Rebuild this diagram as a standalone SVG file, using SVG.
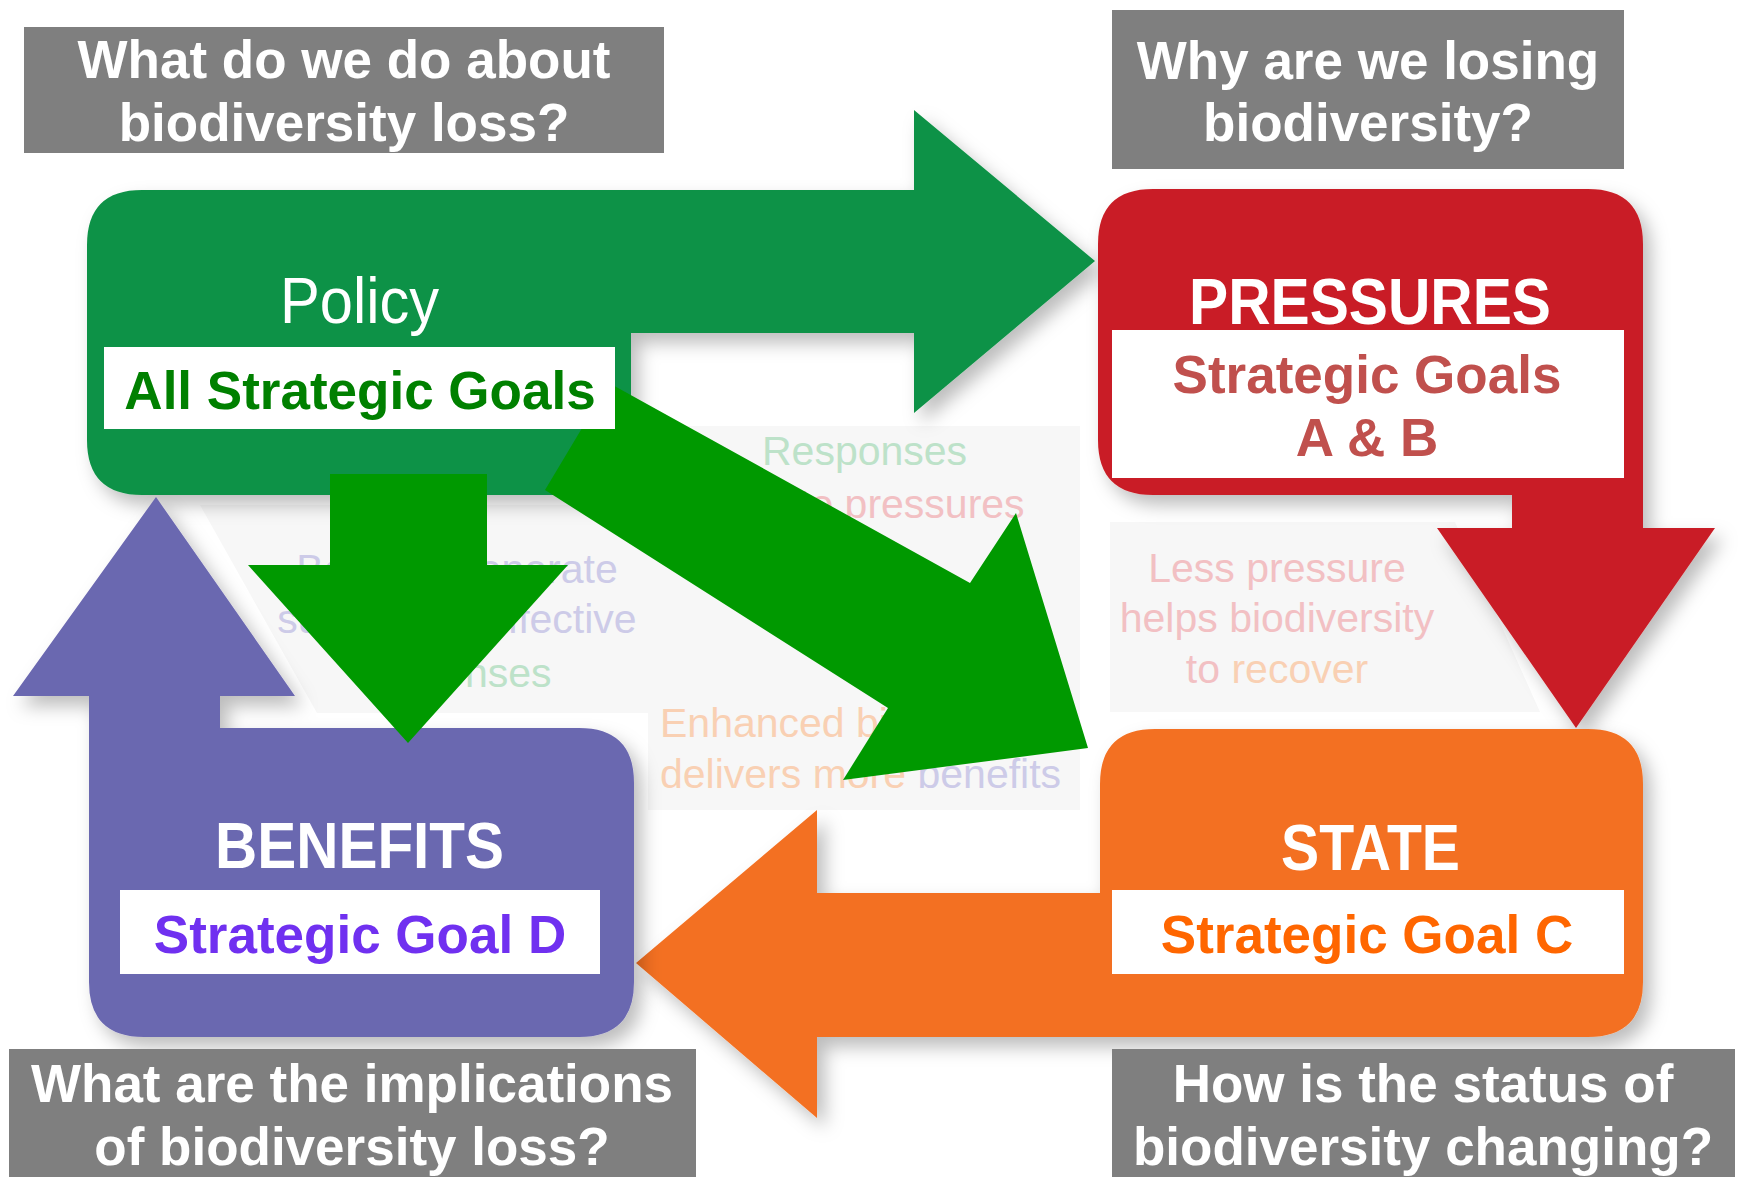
<svg xmlns="http://www.w3.org/2000/svg" width="1743" height="1184" viewBox="0 0 1743 1184">
  <defs>
    <style>
      text { font-family: "Liberation Sans", Arial, sans-serif; }
      .q { fill: #7f7f7f; }
      .qt { fill: #ffffff; font-size: 53px; font-weight: bold; text-anchor: middle; }
      .tag { fill: #ffffff; }
      .goal { font-size: 53px; font-weight: bold; text-anchor: middle; }
      .head { fill: #ffffff; font-size: 64px; font-weight: bold; }
      .faint { font-size: 41px; }
      .panel { fill: #f7f7f7; }
      .link { fill: #009900; }
      .fp { fill: #cdcbe8; }
      .fg { fill: #bde2c9; }
      .fr { fill: #f2c0c3; }
      .fo { fill: #f9d0b3; }
    </style>
    <filter id="shade" x="-15%" y="-15%" width="135%" height="135%">
      <feGaussianBlur in="SourceAlpha" stdDeviation="9"/>
      <feOffset dx="8" dy="10" result="blur"/>
      <feFlood flood-color="#000000" flood-opacity="0.26"/>
      <feComposite in2="blur" operator="in"/>
      <feMerge>
        <feMergeNode/>
        <feMergeNode in="SourceGraphic"/>
      </feMerge>
    </filter>
  </defs>

  <rect width="1743" height="1184" fill="#ffffff"/>

  <!-- light panels behind the cycle captions -->
  <g id="panels">
    <polygon class="panel" points="200,505 650,505 650,713 317,713"/>
    <rect class="panel" x="648" y="426" width="432" height="384"/>
    <polygon class="panel" points="1110,522 1455,522 1540,712 1110,712"/>
  </g>

  <!-- faint cycle captions -->
  <g id="captions">
    <text class="faint fp" x="457" y="583" text-anchor="middle">Benefits generate</text>
    <text class="faint fp" x="457" y="633" text-anchor="middle">support for effective</text>
    <text class="faint fg" x="457" y="687" text-anchor="middle">responses</text>

    <text class="faint fg" x="762" y="465">Responses</text>
    <text class="faint fr" x="799" y="518">to pressures</text>

    <text class="faint fr" x="1277" y="582" text-anchor="middle">Less pressure</text>
    <text class="faint fr" x="1277" y="632" text-anchor="middle">helps biodiversity</text>
    <text class="faint" x="1277" y="683" text-anchor="middle"><tspan class="fr">to </tspan><tspan class="fo">recover</tspan></text>

    <text class="faint fo" x="660" y="737">Enhanced biodiversity</text>
    <text class="faint" x="660" y="788"><tspan class="fo">delivers more </tspan><tspan class="fp">benefits</tspan></text>
  </g>

  <!-- Policy block with arrow towards Pressures -->
  <g id="policy">
    <path filter="url(#shade)" fill="#0e9246" d="M142,190 L914,190 L914,110 L1095,261 L914,413 L914,333 L631,333 L631,495 L142,495 Q87,495 87,440 L87,245 Q87,190 142,190 Z"/>
    <text x="280" y="323" fill="#ffffff" font-size="64" textLength="159" lengthAdjust="spacingAndGlyphs">Policy</text>
  </g>

  <!-- Pressures block with arrow towards State -->
  <g id="pressures">
    <path filter="url(#shade)" fill="#c91f26" d="M1153,189 L1588,189 Q1643,189 1643,244 L1643,528 L1715,528 L1576,728 L1437,528 L1512,528 L1512,495 L1153,495 Q1098,495 1098,440 L1098,244 Q1098,189 1153,189 Z"/>
    <text class="head" x="1189" y="324" textLength="362" lengthAdjust="spacingAndGlyphs">PRESSURES</text>
  </g>

  <!-- State block with arrow towards Benefits -->
  <g id="state">
    <path filter="url(#shade)" fill="#f37021" d="M1155,729 L1588,729 Q1643,729 1643,784 L1643,982 Q1643,1037 1588,1037 L817,1037 L817,1118 L636,963 L817,810 L817,893 L1100,893 L1100,784 Q1100,729 1155,729 Z"/>
    <text class="head" x="1281" y="870" textLength="179" lengthAdjust="spacingAndGlyphs">STATE</text>
  </g>

  <!-- Benefits block with arrow towards Policy -->
  <g id="benefits">
    <path filter="url(#shade)" fill="#6b67b0" d="M89,982 L89,696 L13,696 L156,497 L295,696 L220,696 L220,728 L579,728 Q634,728 634,783 L634,982 Q634,1037 579,1037 L144,1037 Q89,1037 89,982 Z"/>
    <text class="head" x="215" y="868" textLength="289" lengthAdjust="spacingAndGlyphs">BENEFITS</text>
  </g>

  <!-- policy links to state and benefits -->
  <g id="connectors">
    <polygon class="link" points="330,474 487,474 487,565 568,565 408,743 248,565 330,565"/>
    <polygon class="link" points="609,383 970,583 1016,513 1088,748 843,780 888,708 545,490"/>
  </g>

  <!-- strategic goal labels -->
  <g id="goal-all">
    <rect class="tag" x="104" y="347" width="511" height="82"/>
    <text class="goal" x="360" y="409" fill="#008000">All Strategic Goals</text>
  </g>
  <g id="goal-ab">
    <rect class="tag" x="1112" y="330" width="512" height="148"/>
    <text class="goal" x="1367" y="393" fill="#c0504d">Strategic Goals</text>
    <text class="goal" x="1367" y="456" fill="#c0504d">A &amp; B</text>
  </g>
  <g id="goal-d">
    <rect class="tag" x="120" y="890" width="480" height="84"/>
    <text class="goal" x="360" y="953" fill="#7030f0">Strategic Goal D</text>
  </g>
  <g id="goal-c">
    <rect class="tag" x="1112" y="890" width="512" height="84"/>
    <text class="goal" x="1367" y="953" fill="#ff6600">Strategic Goal C</text>
  </g>

  <!-- guiding questions -->
  <g id="q-policy">
    <rect class="q" x="24" y="27" width="640" height="126"/>
    <text class="qt" x="344" y="78">What do we do about</text>
    <text class="qt" x="344" y="141">biodiversity loss?</text>
  </g>
  <g id="q-pressures">
    <rect class="q" x="1112" y="10" width="512" height="159"/>
    <text class="qt" x="1368" y="79">Why are we losing</text>
    <text class="qt" x="1368" y="141">biodiversity?</text>
  </g>
  <g id="q-benefits">
    <rect class="q" x="9" y="1049" width="687" height="128"/>
    <text class="qt" x="352" y="1102">What are the implications</text>
    <text class="qt" x="352" y="1165">of biodiversity loss?</text>
  </g>
  <g id="q-state">
    <rect class="q" x="1112" y="1049" width="623" height="128"/>
    <text class="qt" x="1423" y="1102">How is the status of</text>
    <text class="qt" x="1423" y="1165">biodiversity changing?</text>
  </g>
</svg>
